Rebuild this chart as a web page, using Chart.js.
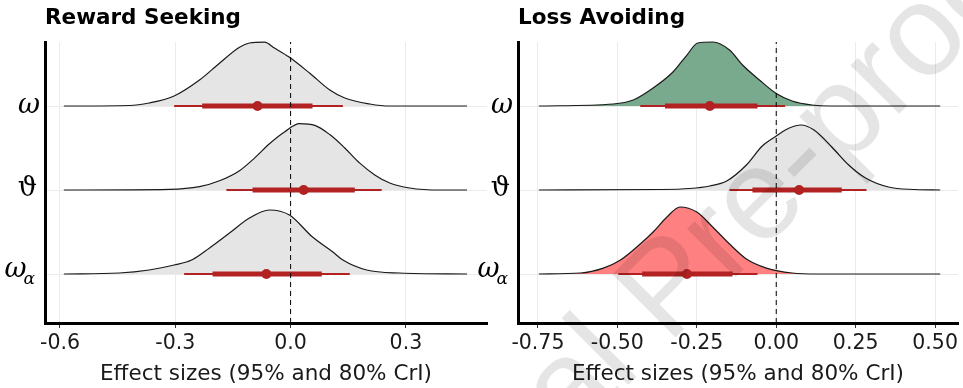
<!DOCTYPE html>
<html><head><meta charset="utf-8">
<script src="https://cdn.jsdelivr.net/npm/chart.js@4.4.0/dist/chart.umd.min.js"></script>
<style>
html,body{margin:0;padding:0;background:#fff;width:963px;height:388px;overflow:hidden;position:relative}
canvas{position:absolute;top:0}
#c1{left:0;width:495px;height:388px}
#c2{left:470px;width:493px;height:388px}
#wm{left:0;width:963px;height:388px;pointer-events:none}
</style></head><body>
<canvas id="c1" width="495" height="388"></canvas>
<canvas id="c2" width="493" height="388"></canvas>
<canvas id="wm" width="963" height="388"></canvas>
<script>
// ---------- data ----------
const rowLabels = ['ω', 'ϑ', 'ω'];
const rowSubs = ['', '', 'α'];
const rowPos = [2, 1, 0];
const axisTitle = 'Effect sizes (95% and 80% CrI)';

const rewardTitle = 'Reward Seeking';
const rewardTicks = [-0.6, -0.3, 0.0, 0.3];
const rewardTickLabels = ['-0.6', '-0.3', '0.0', '0.3'];
// density heights are in units of row spacing
const rwOmegaX = [-0.59,-0.42,-0.368,-0.303,-0.237,-0.185,-0.133,-0.107,-0.068,-0.042,-0.003,0.05,0.102,0.141,0.206,0.258,0.459];
const rwOmegaH = [0,0.006,0.036,0.12,0.31,0.51,0.70,0.75,0.76,0.69,0.58,0.39,0.19,0.095,0.024,0,0];
const rwThetaX = [-0.59,-0.316,-0.237,-0.185,-0.133,-0.094,-0.055,-0.016,0.023,0.063,0.102,0.141,0.18,0.219,0.258,0.31,0.389,0.459];
const rwThetaH = [0,0.008,0.04,0.11,0.23,0.38,0.55,0.69,0.79,0.77,0.66,0.50,0.32,0.18,0.083,0.024,0,0];
const rwOmegaAX = [-0.59,-0.446,-0.368,-0.303,-0.256,-0.211,-0.159,-0.107,-0.055,-0.003,0.057,0.110,0.136,0.198,0.284,0.459];
const rwOmegaAH = [0,0.012,0.048,0.107,0.17,0.31,0.488,0.667,0.762,0.702,0.44,0.262,0.167,0.048,0.012,0];
const rwPoint = [-0.086, 0.034, -0.063];
const rwLo95 = [-0.303, -0.167, -0.277];
const rwHi95 = [0.136, 0.237, 0.154];
const rwLo80 = [-0.23, -0.099, -0.203];
const rwHi80 = [0.057, 0.167, 0.081];

const lossTitle = 'Loss Avoiding';
const lossTicks = [-0.75, -0.5, -0.25, 0.0, 0.25, 0.5];
const lossTickLabels = ['-0.75', '-0.50', '-0.25', '0.00', '0.25', '0.50'];
const lsOmegaX = [-0.747,-0.5125,-0.45,-0.3875,-0.325,-0.281,-0.247,-0.2,-0.147,-0.106,-0.053,0,0.05,0.1125,0.166,0.516];
const lsOmegaH = [0,0.024,0.071,0.214,0.405,0.607,0.75,0.762,0.667,0.488,0.31,0.149,0.06,0.012,0,0];
const lsThetaX = [-0.747,-0.366,-0.272,-0.209,-0.156,-0.094,-0.044,0,0.041,0.078,0.119,0.175,0.228,0.281,0.353,0.4375,0.516];
const lsThetaH = [0,0.006,0.018,0.048,0.107,0.298,0.524,0.643,0.738,0.774,0.714,0.512,0.298,0.143,0.036,0.006,0];
const lsOmegaAX = [-0.747,-0.616,-0.544,-0.49,-0.428,-0.3875,-0.344,-0.303,-0.25,-0.2,-0.147,-0.094,-0.031,0.05,0.134,0.516];
const lsOmegaAH = [0,0.012,0.071,0.167,0.357,0.5,0.679,0.798,0.738,0.56,0.357,0.179,0.071,0.012,0,0];
const lsPoint = [-0.209, 0.072, -0.281];
const lsLo95 = [-0.428, -0.147, -0.497];
const lsHi95 = [0.028, 0.284, -0.059];
const lsLo80 = [-0.35, -0.075, -0.422];
const lsHi80 = [-0.059, 0.206, -0.1375];

// ---------- styling ----------
const RED = '#b22222';
const GRAY_FILL = '#e5e5e5';
const GREEN_FILL = '#7aaa8e';
const PINK_FILL = '#ff8080';
const Y_MIN = -0.583, Y_MAX = 2.762;

Chart.defaults.font.family = '"DejaVu Sans", sans-serif';

const rowLabelPlugin = {
  id: 'rowLabels',
  afterDraw(chart) {
    const {ctx, chartArea, scales} = chart;
    const y = scales.y;
    const xr = chartArea.left - 5;
    ctx.save();
    ctx.fillStyle = '#000';
    ctx.textAlign = 'right';
    ctx.textBaseline = 'alphabetic';
    rowLabels.forEach((lab, i) => {
      const yy = y.getPixelForValue(rowPos[i]);
      if (rowSubs[i]) {
        ctx.font = 'italic 17px "DejaVu Serif"';
        ctx.fillText(rowSubs[i], xr - 5, yy + 10);
        const w = ctx.measureText(rowSubs[i]).width;
        ctx.font = 'italic 27px "DejaVu Serif"';
        ctx.fillText(lab, xr - 5 - w + 3, yy + 3);
      } else if (i === 1) {
        ctx.font = '27px "DejaVu Serif"';
        ctx.fillText(lab, xr - 3, yy + 6);
      } else {
        ctx.font = 'italic 27px "DejaVu Serif"';
        ctx.fillText(lab, xr, yy + 7);
      }
    });
    ctx.restore();
  }
};

function buildDatasets(rows) {
  const ds = [];
  rows.forEach(r => {
    ds.push({
      data: r.xs.map((x, i) => ({x: x, y: r.base + r.hs[i]})),
      borderColor: '#1a1a1a', borderWidth: 1.2, backgroundColor: r.fill,
      fill: {value: r.base}, pointRadius: 0, cubicInterpolationMode: 'monotone',
      order: 5, clip: false
    });
  });
  rows.forEach(r => {
    ds.push({data: [{x: r.lo95, y: r.base}, {x: r.hi95, y: r.base}], borderColor: RED, borderWidth: 2, pointRadius: 0, fill: false, order: 4});
    ds.push({data: [{x: r.lo80, y: r.base}, {x: r.hi80, y: r.base}], borderColor: RED, borderWidth: 5, pointRadius: 0, fill: false, order: 3});
    ds.push({data: [{x: r.pt, y: r.base}], pointRadius: 5, pointBackgroundColor: RED, pointBorderColor: RED, pointBorderWidth: 0, showLine: false, order: 2});
  });
  ds.push({data: [{x: 0, y: Y_MIN}, {x: 0, y: Y_MAX}], borderColor: '#000', borderWidth: 1, borderDash: [5, 4], pointRadius: 0, fill: false, order: 1});
  return ds;
}

function makeChart(id, title, rows, xMin, xMax, ticks, tickLabels, yWidth, padRight) {
  new Chart(document.getElementById(id), {
    type: 'line',
    data: {datasets: buildDatasets(rows)},
    plugins: [rowLabelPlugin],
    options: {
      responsive: false, animation: false, events: [],
      layout: {padding: {left: 0, right: padRight, top: 0, bottom: 0}},
      plugins: {
        legend: {display: false}, tooltip: {enabled: false},
        title: {display: true, text: title, align: 'start', fullSize: false, color: '#000',
          font: {size: 21.5, weight: 'bold'}, padding: {top: 6, bottom: 10.2}}
      },
      scales: {
        x: {
          type: 'linear', min: xMin, max: xMax,
          afterBuildTicks: s => { s.ticks = ticks.map(v => ({value: v})); },
          afterFit: s => { s.height = 65; },
          ticks: {callback: (v, i) => tickLabels[i], color: '#1a1a1a', font: {size: 20.5}, padding: 3, maxRotation: 0, autoSkip: false},
          grid: {color: '#ebebeb', lineWidth: 1, tickColor: '#333', tickLength: 5, tickWidth: 1},
          border: {color: '#000', width: 3},
          title: {display: true, text: axisTitle, color: '#1a1a1a', font: {size: 21.5}, padding: {top: 0, bottom: 1}}
        },
        y: {
          type: 'linear', min: Y_MIN, max: Y_MAX,
          afterBuildTicks: s => { s.ticks = rowPos.map(v => ({value: v})); },
          afterFit: s => { s.width = yWidth; },
          ticks: {display: false},
          grid: {color: '#ebebeb', lineWidth: 1, drawTicks: false},
          border: {color: '#000', width: 3}
        }
      }
    }
  });
}

makeChart('c1', rewardTitle, [
  {xs: rwOmegaX, hs: rwOmegaH, base: rowPos[0], fill: GRAY_FILL, pt: rwPoint[0], lo95: rwLo95[0], hi95: rwHi95[0], lo80: rwLo80[0], hi80: rwHi80[0]},
  {xs: rwThetaX, hs: rwThetaH, base: rowPos[1], fill: GRAY_FILL, pt: rwPoint[1], lo95: rwLo95[1], hi95: rwHi95[1], lo80: rwLo80[1], hi80: rwHi80[1]},
  {xs: rwOmegaAX, hs: rwOmegaAH, base: rowPos[2], fill: GRAY_FILL, pt: rwPoint[2], lo95: rwLo95[2], hi95: rwHi95[2], lo80: rwLo80[2], hi80: rwHi80[2]}
], -0.639, 0.511, rewardTicks, rewardTickLabels, 45, 8);

makeChart('c2', lossTitle, [
  {xs: lsOmegaX, hs: lsOmegaH, base: rowPos[0], fill: GREEN_FILL, pt: lsPoint[0], lo95: lsLo95[0], hi95: lsHi95[0], lo80: lsLo80[0], hi80: lsHi80[0]},
  {xs: lsThetaX, hs: lsThetaH, base: rowPos[1], fill: GRAY_FILL, pt: lsPoint[1], lo95: lsLo95[1], hi95: lsHi95[1], lo80: lsLo80[1], hi80: lsHi80[1]},
  {xs: lsOmegaAX, hs: lsOmegaAH, base: rowPos[2], fill: PINK_FILL, pt: lsPoint[2], lo95: lsLo95[2], hi95: lsHi95[2], lo80: lsLo80[2], hi80: lsHi80[2]}
], -0.8127, 0.572, lossTicks, lossTickLabels, 48, 3);

// watermark
(function () {
  const c = document.getElementById('wm');
  const ctx = c.getContext('2d');
  ctx.save();
  ctx.font = '130px "Liberation Sans"';
  ctx.fillStyle = 'rgba(0,0,0,0.1)';
  ctx.translate(668, 345);
  ctx.rotate(-Math.PI / 4);
  const pre = ctx.measureText('Journal ').width;
  ctx.fillText('Journal Pre-proof', -pre, 0);
  ctx.restore();
})();
</script>
</body></html>
